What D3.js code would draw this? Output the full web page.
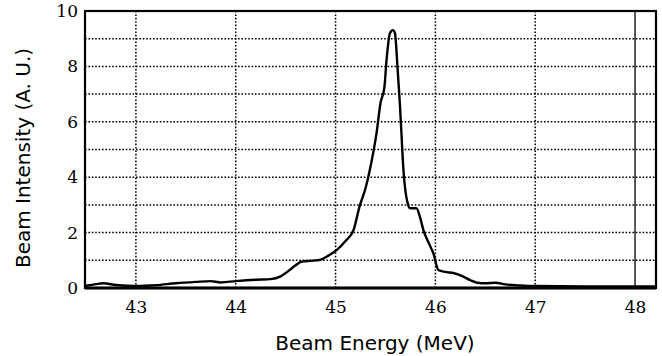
<!DOCTYPE html>
<html>
<head>
<meta charset="utf-8">
<script src="https://cdn.jsdelivr.net/npm/d3@7"></script>
<style>
  body { margin: 0; background: #fff; }
  svg { display: block; }
</style>
</head>
<body>
<svg id="chart"></svg>
<script>
// beam energy (MeV) and intensity (A. U.)
const energy = [42.5, 42.6, 42.67, 42.8, 43.0, 43.2, 43.4, 43.6, 43.75, 43.85,
    44.0, 44.2, 44.35, 44.45, 44.54, 44.6, 44.66, 44.75, 44.84, 44.92,
    45.01, 45.1, 45.18, 45.24, 45.3, 45.35, 45.41, 45.45, 45.49, 45.51,
    45.545, 45.575, 45.595, 45.62, 45.645, 45.66, 45.68, 45.7, 45.72, 45.745,
    45.81, 45.845, 45.88, 45.93, 45.98, 46.03, 46.1, 46.18, 46.28, 46.35,
    46.42, 46.5, 46.6, 46.7, 46.85, 47.0, 47.5, 48.0, 48.2]
const intensity = [0.08, 0.14, 0.17, 0.11, 0.07, 0.1, 0.17, 0.22, 0.25, 0.2,
    0.25, 0.3, 0.32, 0.42, 0.65, 0.82, 0.95, 0.98, 1.01, 1.15,
    1.37, 1.7, 2.09, 2.94, 3.6, 4.38, 5.58, 6.67, 7.27, 8.2,
    9.2, 9.31, 9.2, 8.0, 6.6, 5.58, 4.26, 3.5, 3.1, 2.88,
    2.88, 2.57, 2.09, 1.65, 1.25, 0.65, 0.58, 0.54, 0.41, 0.28,
    0.19, 0.17, 0.19, 0.13, 0.09, 0.07, 0.06, 0.06, 0.06]

const xTicks = [43, 44, 45, 46, 47, 48]
const yTicks = [0, 2, 4, 6, 8, 10]
const yGrid = [1, 2, 3, 4, 5, 6, 7, 8, 9]

const W = 662, H = 356
const margin = {top: 11, right: 6, bottom: 68, left: 85}

const svg = d3.select("#chart")
    .attr("width", W)
    .attr("height", H)

const x = d3.scaleLinear()
    .domain([42.49, 48.21])
    .range([margin.left, W - margin.right])
const y = d3.scaleLinear()
    .domain([0, 10])
    .range([H - margin.bottom, margin.top])

// dotted grid
svg.append("g")
    .selectAll("line")
    .data(yGrid)
    .enter()
    .append("line")
    .attr("x1", x.range()[0])
    .attr("x2", x.range()[1])
    .attr("y1", d => y(d))
    .attr("y2", d => y(d))
    .attr("stroke", "#000")
    .attr("stroke-width", 1.5)
    .attr("stroke-dasharray", "1.6,1.8")

svg.append("g")
    .selectAll("line")
    .data(xTicks)
    .enter()
    .append("line")
    .attr("x1", d => x(d))
    .attr("x2", d => x(d))
    .attr("y1", y.range()[0])
    .attr("y2", y.range()[1])
    .attr("stroke", "#000")
    .attr("stroke-width", d => d == 48 ? 1.3 : 1.5)
    .attr("stroke-dasharray", d => d == 48 ? null : "1.6,1.8")

// frame
svg.append("rect")
    .attr("x", x.range()[0])
    .attr("y", y.range()[1])
    .attr("width", x.range()[1] - x.range()[0])
    .attr("height", y.range()[0] - y.range()[1])
    .attr("fill", "none")
    .attr("stroke", "#000")
    .attr("stroke-width", 2.2)

svg.append("line")
    .attr("x1", x.range()[0])
    .attr("x2", x.range()[1])
    .attr("y1", y(0))
    .attr("y2", y(0))
    .attr("stroke", "#000")
    .attr("stroke-width", 3)

// axes
svg.append("g")
    .attr("transform", "translate(0," + (H - margin.bottom) + ")")
    .call(d3.axisBottom(x).tickValues(xTicks).tickFormat(d3.format("d")).tickSize(0).tickPadding(13))
svg.append("g")
    .attr("transform", "translate(" + margin.left + ",0)")
    .call(d3.axisLeft(y).tickValues(yTicks).tickFormat(d3.format("d")).tickSize(0).tickPadding(7))

svg.selectAll(".domain").remove()
svg.selectAll(".tick text")
    .attr("font-family", "DejaVu Serif")
    .attr("font-size", 17)
    .attr("fill", "#000")

// curve
const line = d3.line()
    .x(d => x(d[0]))
    .y(d => y(d[1]))
    .curve(d3.curveMonotoneX)

svg.append("path")
    .datum(d3.zip(energy, intensity))
    .attr("d", line)
    .attr("fill", "none")
    .attr("stroke", "#000")
    .attr("stroke-width", 2.4)
    .attr("stroke-linejoin", "round")

// titles
svg.append("text")
    .attr("x", 375)
    .attr("y", 350)
    .attr("text-anchor", "middle")
    .attr("font-family", "DejaVu Sans")
    .attr("font-size", 20)
    .text("Beam Energy (MeV)")

svg.append("text")
    .attr("transform", "translate(30,158) rotate(-90)")
    .attr("text-anchor", "middle")
    .attr("font-family", "DejaVu Sans")
    .attr("font-size", 20)
    .text("Beam Intensity (A. U.)")
</script>
</body>
</html>
